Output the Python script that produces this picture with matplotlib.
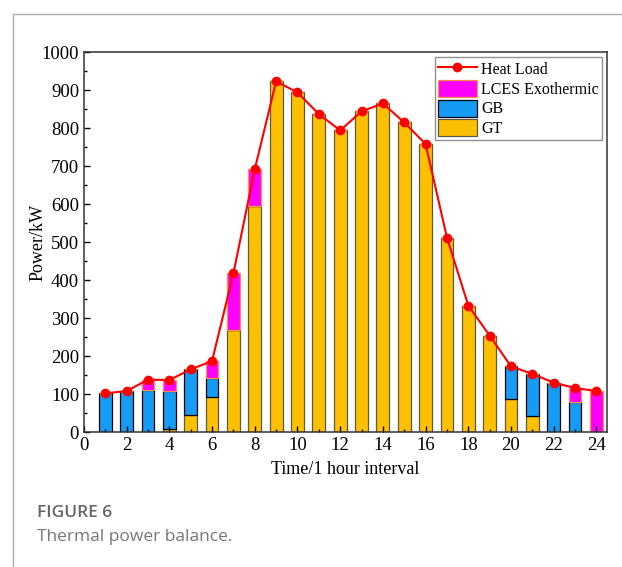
import numpy as np
import matplotlib
matplotlib.use("Agg")
from matplotlib import pyplot as plt
from matplotlib.ticker import MultipleLocator

# hourly data (kW)
hours = np.arange(1, 25)
heat_load = [102, 108, 138, 137, 165, 187, 418, 692, 923, 894, 837, 794,
             844, 865, 815, 758, 512, 333, 254, 173, 153, 130, 116, 108]
gt = [0, 0, 0, 9, 44, 93, 268, 596, 923, 894, 837, 794,
      844, 865, 815, 758, 512, 333, 254, 88, 43, 0, 0, 0]
gb = [102, 108, 110, 99, 121, 50, 0, 0, 0, 0, 0, 0,
      0, 0, 0, 0, 0, 0, 0, 85, 110, 130, 80, 0]
lces = [0, 0, 28, 29, 0, 44, 150, 96, 0, 0, 0, 0,
        0, 0, 0, 0, 0, 0, 0, 0, 0, 0, 36, 108]

plt.rcParams['font.family'] = ['Liberation Serif', 'DejaVu Serif']

fig = plt.figure(figsize=(6.22, 5.67), dpi=100)
ax = fig.add_axes([0.135, 0.238, 0.841, 0.670])

w = 0.6
gt_a = np.array(gt)
gb_a = np.array(gb)
ax.bar(hours, gt, w, color='#FFC000', edgecolor='#5a5a4a', linewidth=0.9, label='GT')
ax.bar(hours, gb, w, bottom=gt_a, color='#169BF5', edgecolor='black', linewidth=0.9, label='GB')
ax.bar(hours, lces, w, bottom=gt_a + gb_a, color='#FF00FF', edgecolor='#FF9040', linewidth=0.9,
       label='LCES Exothermic')
ax.plot(hours, heat_load, '-o', color='#FF0000', lw=1.5, ms=6, label='Heat Load', zorder=5)

ax.set_xlim(0, 24.5)
ax.set_ylim(0, 1000)
ax.xaxis.set_major_locator(MultipleLocator(2))
ax.xaxis.set_minor_locator(MultipleLocator(1))
ax.yaxis.set_major_locator(MultipleLocator(100))
ax.yaxis.set_minor_locator(MultipleLocator(50))
ax.tick_params(which='both', direction='in', labelsize=13.5, width=1)
ax.tick_params(which='major', length=4)
ax.tick_params(which='minor', length=2)
for s in ax.spines.values():
    s.set_linewidth(1.1)
    s.set_color('#333333')

ax.set_xlabel('Time/1 hour interval', fontsize=13, labelpad=5)
ax.set_ylabel('Power/kW', fontsize=13)
ax.yaxis.set_label_coords(-0.072, 0.5)

h, l = ax.get_legend_handles_labels()
order = [0, 3, 2, 1]
leg = ax.legend([h[i] for i in order], [l[i] for i in order], loc='upper right',
                fontsize=11.5, frameon=True, fancybox=False, edgecolor='#777777',
                borderaxespad=0.3, handlelength=2.4, handleheight=1.25,
                labelspacing=0.12, borderpad=0.2, handletextpad=0.3)
leg.get_frame().set_linewidth(1.0)

# page frame and caption
fig.add_artist(plt.Line2D([12.5 / 622, 1], [1 - 13.5 / 567, 1 - 13.5 / 567],
                          color='#b0b0b0', lw=1))
fig.add_artist(plt.Line2D([12.5 / 622, 12.5 / 622], [0, 1 - 13.5 / 567],
                          color='#b0b0b0', lw=1))
fig.text(37 / 622, 1 - 513 / 567, 'FIGURE 6', family='Open Sans', fontsize=12.5,
         fontweight='semibold', color='#666666', va='center')
fig.text(37 / 622, 1 - 537 / 567, 'Thermal power balance.', family='Open Sans',
         fontsize=12.5, color='#777777', va='center')

fig.savefig('out.png', dpi=100)
